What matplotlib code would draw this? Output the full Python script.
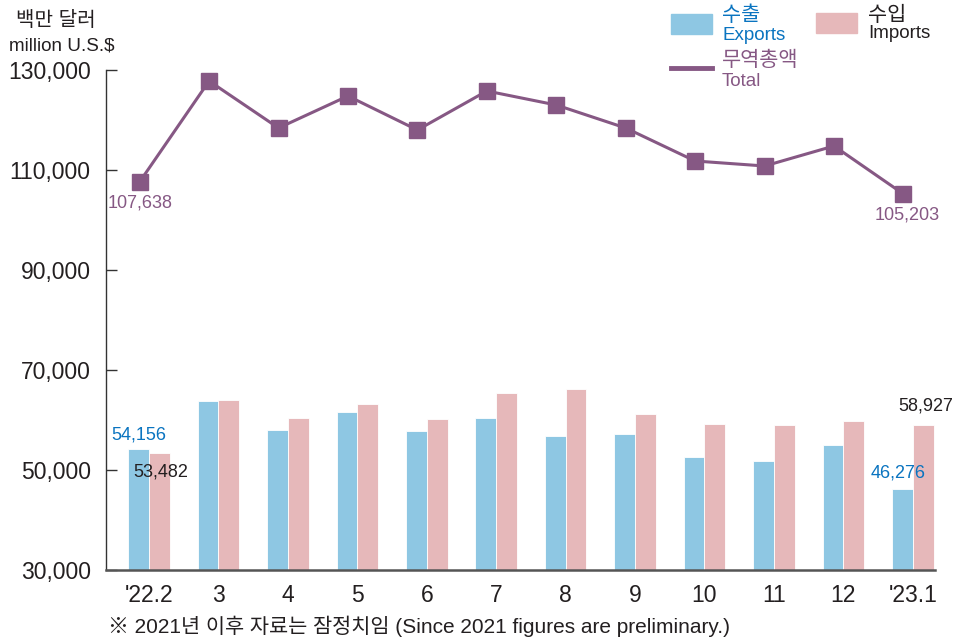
import matplotlib.pyplot as plt
from matplotlib.patches import Rectangle
from matplotlib.lines import Line2D

plt.rcParams['font.family'] = ['Liberation Sans', 'Noto Sans CJK KR', 'DejaVu Sans']

months = ["'22.2", '3', '4', '5', '6', '7', '8', '9', '10', '11', '12', "'23.1"]
exports = [54156, 63800, 58000, 61600, 57800, 60400, 56800, 57200, 52600, 51800, 55000, 46276]
imports = [53482, 64000, 60400, 63200, 60200, 65400, 66200, 61200, 59200, 59000, 59800, 58927]
total = [107638, 127800, 118400, 124800, 118000, 125800, 123000, 118400, 111800, 110800, 114800, 105203]

c_exp = '#8ec7e3'
c_imp = '#e6b8ba'
c_tot = '#865884'
c_blue = '#0a74c0'
c_dark = '#231f20'

fig = plt.figure(figsize=(9.57, 6.4), dpi=100)
ax = fig.add_axes([106/957, 1-570/640, (935-106)/957, 500/640])

x = list(range(len(months)))
w = 0.30
ax.bar([i - w/2 for i in x], exports, width=w, color=c_exp, edgecolor='white', linewidth=0.6, zorder=2)
ax.bar([i + w/2 for i in x], imports, width=w, color=c_imp, edgecolor='white', linewidth=0.6, zorder=2)
ax.plot([i - 0.135 for i in x], total, color=c_tot, lw=2.2, marker='s', ms=11,
        clip_on=False, zorder=3)

ax.set_ylim(30000, 130000)
ax.set_xlim(-0.62, 11.32)
yt = [30000, 50000, 70000, 90000, 110000, 130000]
ax.set_yticks(yt)
ax.set_yticklabels(['{:,}'.format(v) for v in yt])
ax.set_xticks(x)
ax.set_xticklabels(months)
ax.tick_params(axis='y', direction='in', length=8, width=1, pad=11, labelsize=16.5,
               colors='#333333', labelcolor=c_dark)
ax.tick_params(axis='x', length=0, pad=10, labelsize=16.5, labelcolor=c_dark)
for s in ['top', 'right']:
    ax.spines[s].set_visible(False)
ax.spines['left'].set_color('#333333')
ax.spines['left'].set_linewidth(1)
ax.spines['bottom'].set_color('#555555')
ax.spines['bottom'].set_linewidth(1.8)

kw = dict(textcoords='offset points', ha='center', va='center', fontsize=13)
ax.annotate('{:,}'.format(exports[0]), (0 - w/2, exports[0]), xytext=(0, 10), color=c_blue, **kw)
ax.annotate('{:,}'.format(imports[0]), (0 + w/2, imports[0]), xytext=(1, -14), color=c_dark, **kw)
ax.annotate('{:,}'.format(exports[-1]), (11 - w/2, exports[-1]), xytext=(-3, 11), color=c_blue, **kw)
ax.annotate('{:,}'.format(imports[-1]), (11 + w/2, imports[-1]), xytext=(2, 14), color=c_dark, **kw)
ax.annotate('{:,}'.format(total[0]), (0 - 0.135, total[0]), xytext=(0, -15), color=c_tot, **kw)
ax.annotate('{:,}'.format(total[-1]), (11 - 0.135, total[-1]), xytext=(3, -15), color=c_tot, **kw)

# legend drawn by hand
fig.patches.append(Rectangle((671/957, 1-34/640), 41/957, 20/640, transform=fig.transFigure,
                             color=c_exp))
fig.patches.append(Rectangle((816/957, 1-33/640), 41/957, 20/640, transform=fig.transFigure,
                             color=c_imp))
fig.lines.append(Line2D([671/957, 712/957], [1-68/640, 1-68/640], transform=fig.transFigure,
                        color=c_tot, lw=3.5))

def two_line(px, py_kr, py_en, kr, en, color):
    fig.text(px/957, 1-py_kr/640, kr, color=color, fontsize=15, va='center')
    fig.text(px/957, 1-py_en/640, en, color=color, fontsize=13.5, va='center')

two_line(722, 15, 35, '수출', 'Exports', c_blue)
two_line(868, 15, 34, '수입', 'Imports', c_dark)
two_line(722, 60, 82, '무역총액', 'Total', c_tot)

fig.text(56/957, 1-21/640, '백만 달러', color=c_dark, fontsize=14.5, va='center', ha='center')
fig.text(62/957, 1-46/640, 'million U.S.$', color=c_dark, fontsize=13.6, va='center', ha='center')
fig.text(108/957, 1-626/640, '※ 2021년 이후 자료는 잠정치임 (Since 2021 figures are preliminary.)',
         color=c_dark, fontsize=15, va='center')

fig.savefig('out.png', dpi=100)
